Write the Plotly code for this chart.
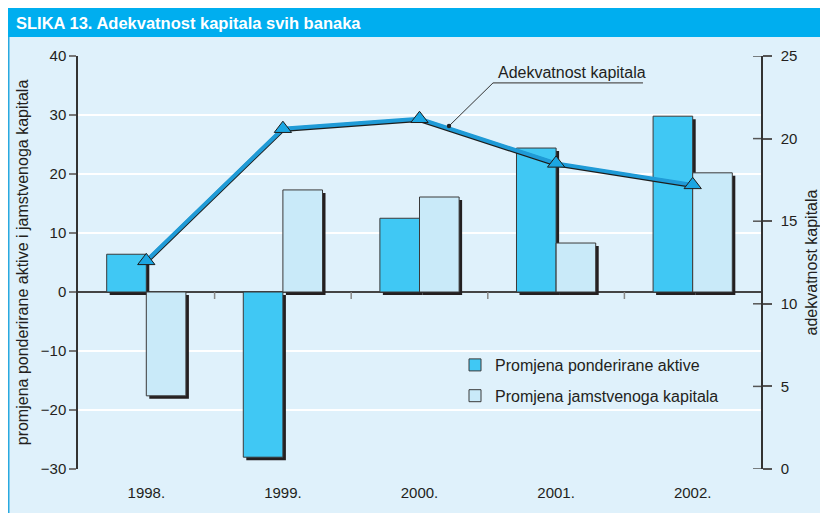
import plotly.graph_objects as go

# ---------------- data ----------------
years = ["1998.", "1999.", "2000.", "2001.", "2002."]
promjena_ponderirane_aktive = [6.4, -28.0, 12.5, 24.4, 29.8]
promjena_jamstvenoga_kapitala = [-17.6, 17.3, 16.1, 8.3, 20.2]
adekvatnost_kapitala = [12.6, 20.6, 21.2, 18.5, 17.2]

left_tickvals = [-30, -20, -10, 0, 10, 20, 30, 40]
left_ticktext = ["\u221230", "\u221220", "\u221210", "0", "10", "20", "30", "40"]
right_tickvals = [0, 5, 10, 15, 20, 25]

# ---------------- layout constants ----------------
# page body has an 8px margin, so the figure is drawn at (8, 8)
OFF = 8
W, H = 828 - OFF, 513 - OFF
ML, MR, MT, MB = 78 - OFF, 67, 56 - OFF, 44
PW, PH = W - ML - MR, H - MT - MB
LRANGE = [-30, 40]
RRANGE = [0, 25]

def px2x(px):  # reference page pixel -> paper x
    return (px - OFF - ML) / PW

def py2y(py):  # reference page pixel -> paper y
    return (H - MB - (py - OFF)) / PH

FONT = "Liberation Sans, Arial, Helvetica, sans-serif"
TXT = "#231f20"
BG = "#dff1fb"
BLUE = "#40c8f4"
LIGHT = "#c9eaf9"
SHADOW = "#231f20"

BW = 0.29
cat_px = PW / len(years)
dx = 3 / cat_px
dy = 3 * (LRANGE[1] - LRANGE[0]) / PH
dy2 = 1.0 * (RRANGE[1] - RRANGE[0]) / PH

fig = go.Figure()

fig.add_trace(go.Bar(x=years, y=promjena_ponderirane_aktive, base=[-dy] * len(years),
                     width=BW, offset=-BW + dx, marker=dict(color=SHADOW, line=dict(width=0)),
                     showlegend=False, hoverinfo="skip"))
fig.add_trace(go.Bar(x=years, y=promjena_ponderirane_aktive, name="Promjena ponderirane aktive",
                     width=BW, offset=-BW, legendgroup="a",
                     marker=dict(color=BLUE, line=dict(color="#3a3a3a", width=1))))
fig.add_trace(go.Bar(x=years, y=promjena_jamstvenoga_kapitala, base=[-dy] * len(years),
                     width=BW, offset=dx, marker=dict(color=SHADOW, line=dict(width=0)),
                     showlegend=False, hoverinfo="skip"))
fig.add_trace(go.Bar(x=years, y=promjena_jamstvenoga_kapitala, name="Promjena jamstvenoga kapitala",
                     width=BW, offset=0, legendgroup="b",
                     marker=dict(color=LIGHT, line=dict(color="#3a3a3a", width=1))))

fig.add_trace(go.Scatter(x=years, y=[v - dy2 for v in adekvatnost_kapitala], yaxis="y2",
                         mode="lines", line=dict(color="#1d1d1b", width=4.5),
                         showlegend=False, hoverinfo="skip"))
fig.add_trace(go.Scatter(x=years, y=adekvatnost_kapitala, yaxis="y2", name="Adekvatnost kapitala",
                         mode="lines+markers", line=dict(color="#1f9bd7", width=4),
                         marker=dict(symbol="triangle-up", size=15, color="#1ba6e2",
                                     line=dict(color="#1d1d1b", width=1)),
                         showlegend=False))

shapes = []
# title bar and left border
shapes.append(dict(type="rect", xref="paper", yref="paper", x0=px2x(OFF), x1=px2x(840),
                   y0=py2y(37), y1=py2y(OFF), fillcolor="#00aeef", line=dict(width=0), layer="below"))
shapes.append(dict(type="line", xref="paper", yref="paper", x0=px2x(OFF + 0.75), x1=px2x(OFF + 0.75),
                   y0=py2y(530), y1=py2y(37), line=dict(color="#29a9e0", width=1.5), layer="below"))

# x boundary ticks under zero line
for i in range(len(years) - 1):
    shapes.append(dict(type="line", xref="x", yref="y", x0=i + 0.5, x1=i + 0.5,
                       ysizemode="pixel", yanchor=0, y0=0, y1=-7,
                       line=dict(color="#888888", width=1.5)))
# inner half of right-axis ticks
for v in right_tickvals:
    shapes.append(dict(type="line", xref="paper", yref="y2", xsizemode="pixel", xanchor=1,
                       x0=-8, x1=0, y0=v, y1=v, line=dict(color="#555555", width=1.5)))

# leader for line label
pt_x, pt_y = 2.216, 20.76
elbow_x, elbow_y = 2.538, 23.37
end_x = 3.636
shapes.append(dict(type="line", xref="x", yref="y2", x0=pt_x, y0=pt_y, x1=elbow_x, y1=elbow_y,
                   line=dict(color="#333333", width=1)))
shapes.append(dict(type="line", xref="x", yref="y2", x0=elbow_x, y0=elbow_y, x1=end_x, y1=elbow_y,
                   line=dict(color="#555555", width=1.2)))
shapes.append(dict(type="circle", xref="x", yref="y2", xsizemode="pixel", ysizemode="pixel",
                   xanchor=pt_x, yanchor=pt_y, x0=-2.2, x1=2.2, y0=-2.2, y1=2.2,
                   fillcolor="#222222", line=dict(width=0)))

annotations = [
    dict(text="<b>SLIKA 13. Adekvatnost kapitala svih banaka</b>", xref="paper", yref="paper",
         x=px2x(14), y=py2y(23), xanchor="left", yanchor="middle", showarrow=False,
         font=dict(family=FONT, size=16.5, color="white")),
    dict(text="Adekvatnost kapitala", xref="x", yref="y2", x=elbow_x + 0.025, y=elbow_y,
         xanchor="left", yanchor="bottom", showarrow=False,
         font=dict(family=FONT, size=16, color=TXT)),
]

fig.update_layout(
    width=W, height=H,
    margin=dict(l=ML, r=MR, t=MT, b=MB, autoexpand=False),
    paper_bgcolor=BG, plot_bgcolor=BG,
    barmode="overlay",
    font=dict(family=FONT, size=15, color=TXT),
    shapes=shapes, annotations=annotations,
    showlegend=True,
    legend=dict(x=px2x(455), y=py2y(348), xanchor="left", yanchor="top",
                bgcolor="rgba(0,0,0,0)", font=dict(family=FONT, size=16, color=TXT),
                tracegroupgap=7, itemclick=False),
    xaxis=dict(type="category", range=[-0.5, len(years) - 0.5], showgrid=False, showline=False,
               zeroline=False, ticks="", tickfont=dict(size=15, color=TXT), automargin=False,
               ticklabelstandoff=13),
    yaxis=dict(range=LRANGE, tickvals=left_tickvals, ticktext=left_ticktext,
               ticks="outside", ticklen=7, tickcolor="#777777", tickwidth=1.5,
               showline=True, linecolor="#333333", linewidth=1.5,
               showgrid=True, gridcolor="white", gridwidth=1.5,
               zeroline=True, zerolinecolor="#444444", zerolinewidth=1.5,
               tickfont=dict(size=15, color=TXT), automargin=False,
               title=dict(text="promjena ponderirane aktive i jamstvenoga kapitala",
                          font=dict(size=16, color=TXT), standoff=8)),
    yaxis2=dict(range=RRANGE, overlaying="y", side="right", tickvals=right_tickvals,
                ticks="outside", ticklen=9, tickcolor="#555555", tickwidth=1.5,
                showline=True, linecolor="#333333", linewidth=1.5,
                showgrid=False, zeroline=False, tickfont=dict(size=15, color=TXT),
                automargin=False, ticklabelstandoff=6,
                title=dict(text="adekvatnost kapitala", font=dict(size=16, color=TXT), standoff=9)),
)

fig.write_html("out.html")
